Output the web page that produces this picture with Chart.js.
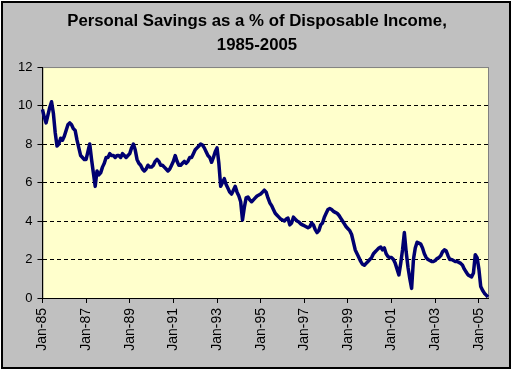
<!DOCTYPE html>
<html>
<head>
<meta charset="utf-8">
<script src="https://cdn.jsdelivr.net/npm/chart.js@4.4.1/dist/chart.umd.min.js"></script>
<style>
    body { margin: 0; background: #ffffff; }
    canvas { display: block; }
</style>
</head>
<body>
<canvas id="savingsChart" width="514" height="372"></canvas>
<script>
// Datos: tasa de ahorro personal mensual (% del ingreso disponible), ene-1985 a jun-2005
const startYear = 1985;
const monthNames = ['Jan', 'Feb', 'Mar', 'Apr', 'May', 'Jun', 'Jul', 'Aug', 'Sep', 'Oct', 'Nov', 'Dec'];
const tickLabels = ['Jan-85', 'Jan-87', 'Jan-89', 'Jan-91', 'Jan-93', 'Jan-95',
                    'Jan-97', 'Jan-99', 'Jan-01', 'Jan-03', 'Jan-05'];
const savingsRate = [
    9.8, 9.4, 9.1, 9.5, 9.9, 10.2, 9.6, 8.6, 7.9, 8.0, 8.3, 8.2,      // 1985
    8.4, 8.7, 9.0, 9.1, 9.0, 8.8, 8.7, 8.2, 7.8, 7.4, 7.3, 7.2,       // 1986
    7.2, 7.6, 8.0, 7.2, 6.5, 5.8, 6.6, 6.4, 6.5, 6.8, 7.0, 7.3,       // 1987
    7.3, 7.5, 7.4, 7.4, 7.3, 7.4, 7.4, 7.3, 7.5, 7.4, 7.3, 7.4,       // 1988
    7.5, 7.8, 8.0, 7.7, 7.2, 7.0, 6.9, 6.7, 6.6, 6.7, 6.9, 6.8,       // 1989
    6.8, 6.9, 7.1, 7.2, 7.1, 6.9, 6.9, 6.8, 6.7, 6.6, 6.7, 6.9,       // 1990
    7.1, 7.4, 7.1, 6.9, 6.9, 7.0, 7.1, 7.0, 7.1, 7.3, 7.3, 7.5,       // 1991
    7.7, 7.8, 7.9, 8.0, 7.95, 7.8, 7.6, 7.4, 7.3, 7.05, 7.3, 7.6,     // 1992
    7.8, 7.0, 5.8, 6.0, 6.2, 5.9, 5.7, 5.5, 5.4, 5.6, 5.8, 5.5,       // 1993
    5.3, 5.0, 4.05, 4.7, 5.2, 5.25, 5.1, 5.0, 5.1, 5.2, 5.3, 5.35,    // 1994
    5.4, 5.5, 5.6, 5.5, 5.2, 4.95, 4.8, 4.6, 4.4, 4.3, 4.2, 4.1,      // 1995
    4.05, 4.0, 4.1, 4.15, 3.8, 3.9, 4.2, 4.1, 4.0, 3.95, 3.85, 3.8,   // 1996
    3.75, 3.7, 3.65, 3.7, 3.9, 3.8, 3.55, 3.4, 3.5, 3.8, 3.9, 4.2,    // 1997
    4.4, 4.6, 4.65, 4.6, 4.5, 4.45, 4.4, 4.3, 4.15, 4.0, 3.85, 3.7,   // 1998
    3.6, 3.5, 3.3, 2.9, 2.5, 2.3, 2.1, 1.9, 1.75, 1.7, 1.8, 1.9,      // 1999
    2.0, 2.1, 2.3, 2.4, 2.5, 2.6, 2.65, 2.5, 2.6, 2.3, 2.15, 2.1,     // 2000
    2.1, 2.0, 1.8, 1.5, 1.2, 1.8, 2.5, 3.4, 2.4, 1.6, 1.0, 0.5,       // 2001
    2.0, 2.6, 2.9, 2.85, 2.8, 2.6, 2.3, 2.1, 2.0, 1.95, 1.9, 1.9,     // 2002
    1.95, 2.05, 2.1, 2.2, 2.4, 2.5, 2.45, 2.2, 2.0, 2.0, 1.95, 1.9,   // 2003
    1.9, 1.85, 1.8, 1.7, 1.5, 1.35, 1.2, 1.15, 1.1, 1.3, 2.25, 2.1,   // 2004
    1.5, 0.6, 0.4, 0.25, 0.15, 0.05                                   // 2005
];

// Etiquetas mensuales tipo "Jan-85"
const monthLabels = savingsRate.map((v, i) => {
    const yr = (startYear + Math.floor(i / 12)) % 100;
    return monthNames[i % 12] + '-' + String(yr).padStart(2, '0');
});

const fontFamily = 'Arial, "Liberation Sans", sans-serif';

// Fondo gris con marco negro y área del gráfico amarilla
const excelBackground = {
    id: 'excelBackground',
    beforeDraw(chart) {
        const ctx = chart.ctx;
        const a = chart.chartArea;
        ctx.save();
        ctx.fillStyle = '#c0c0c0';
        ctx.fillRect(2, 2, 508, 366);
        ctx.strokeStyle = '#000000';
        ctx.lineWidth = 2;
        ctx.strokeRect(2, 2, 508, 366);
        ctx.fillStyle = '#ffffcc';
        ctx.fillRect(a.left, a.top, a.right - a.left, a.bottom - a.top);
        ctx.strokeStyle = '#808080';
        ctx.lineWidth = 1;
        ctx.strokeRect(a.left + 0.5, a.top + 0.5, a.right - a.left, a.bottom - a.top);
        ctx.restore();
    }
};

const ctx = document.getElementById('savingsChart').getContext('2d');
const savingsChart = new Chart(ctx, {
    type: 'line',
    data: {
        labels: monthLabels,
        datasets: [{
            label: 'Personal Savings',
            data: savingsRate,
            borderColor: '#000070',
            borderWidth: 3.5,
            borderJoinStyle: 'round',
            pointRadius: 0,
            tension: 0,
            fill: false
        }]
    },
    options: {
        responsive: false,
        animation: false,
        devicePixelRatio: 1,
        layout: {
            padding: { left: 13, right: 13, top: 0, bottom: 0 }
        },
        plugins: {
            legend: { display: false },
            tooltip: { enabled: false },
            title: {
                display: true,
                text: ['Personal Savings as a % of Disposable Income,', '1985-2005'],
                color: '#000000',
                font: { family: fontFamily, size: 16.8, weight: 'bold', lineHeight: 1.4 },
                padding: { top: 10, bottom: 10 }
            }
        },
        scales: {
            x: {
                type: 'category',
                afterBuildTicks: (scale) => {
                    // solo se muestran los eneros de años impares
                    scale.ticks = scale.ticks.filter(t => tickLabels.includes(monthLabels[t.value]));
                },
                afterFit: (scale) => { scale.height = 74; },
                grid: {
                    drawOnChartArea: false,
                    drawTicks: true,
                    tickLength: 5,
                    tickColor: '#000000'
                },
                border: { display: true, color: '#000000', width: 1 },
                ticks: {
                    autoSkip: false,
                    minRotation: 90,
                    maxRotation: 90,
                    padding: 5,
                    color: '#000000',
                    font: { family: fontFamily, size: 14 }
                }
            },
            y: {
                min: 0,
                max: 12,
                grid: {
                    color: (c) => (c.tick && (c.tick.value === 0 || c.tick.value === 12)) ? 'rgba(0,0,0,0)' : '#000000',
                    lineWidth: 1,
                    tickLength: 5,
                    tickColor: '#000000'
                },
                border: { display: true, color: '#000000', width: 1, dash: [4, 3] },
                ticks: {
                    stepSize: 2,
                    padding: 5,
                    color: '#000000',
                    font: { family: fontFamily, size: 13 }
                }
            },
            // eje vacío a la derecha, solo para dejar margen como en el original
            yRight: {
                position: 'right',
                display: true,
                afterFit: (scale) => { scale.width = 13; },
                grid: { display: false },
                border: { display: false },
                ticks: { display: false }
            }
        }
    },
    plugins: [excelBackground]
});
</script>
</body>
</html>
